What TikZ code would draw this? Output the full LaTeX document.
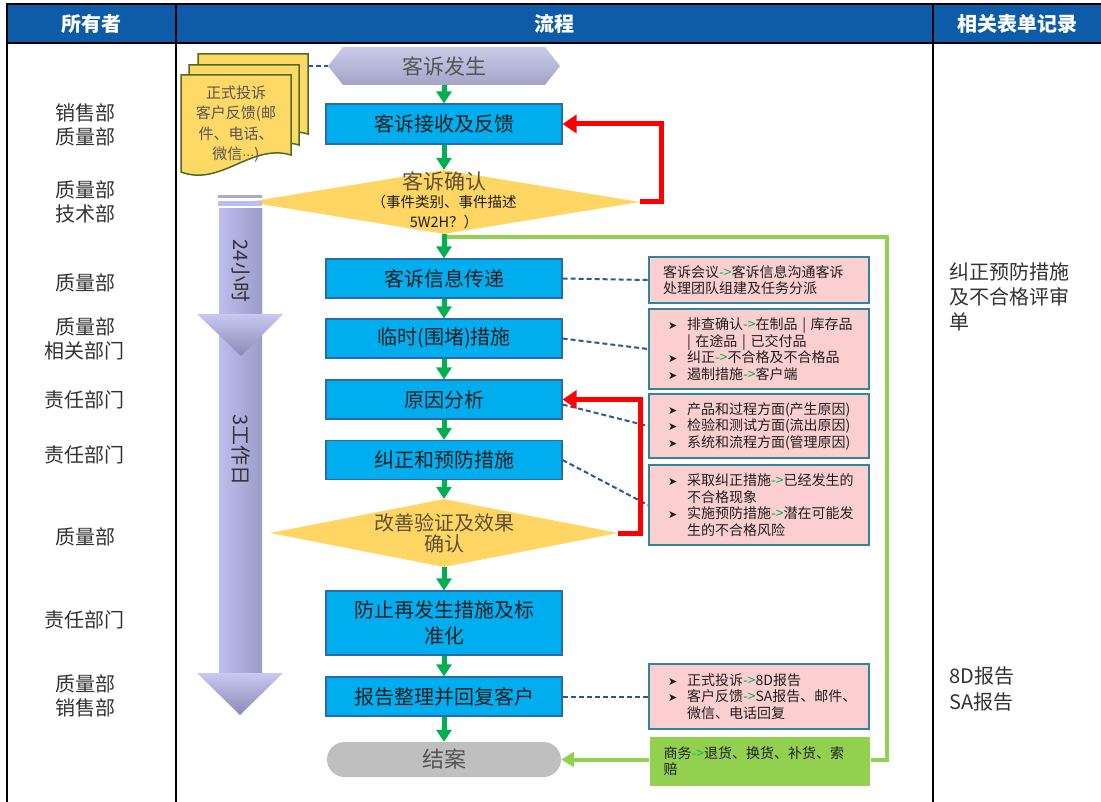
\documentclass[tikz,border=0pt]{standalone}
\usepackage{fontspec}
\setmainfont{Noto Sans CJK SC}
\newfontfamily\dvfont{DejaVu Sans}
\usetikzlibrary{shapes.geometric,shapes.misc,arrows.meta,calc}
\setlength{\parindent}{0pt}
\definecolor{hdrblue}{HTML}{0E5CA8}
\definecolor{boxfill}{HTML}{00AEEF}
\definecolor{boxline}{HTML}{2A6BA8}
\definecolor{diamondy}{HTML}{FFD663}
\definecolor{pinkfill}{HTML}{FBCFCF}
\definecolor{pinkline}{HTML}{31849B}
\definecolor{arrowgreen}{HTML}{00B050}
\definecolor{loopgreen}{HTML}{92D050}
\definecolor{lightgr}{HTML}{1FB84F}
\definecolor{dashblue}{HTML}{2A5A92}
\definecolor{txtdark}{HTML}{1E1E1E}
\definecolor{txtgray}{HTML}{333333}
\definecolor{softgray}{HTML}{555555}
\definecolor{browntxt}{HTML}{5E5036}
\definecolor{endgray}{HTML}{BFBFBF}
\definecolor{docfill}{HTML}{FFD966}
\definecolor{docline}{HTML}{4E6B1F}
\definecolor{lavL}{HTML}{BDBDEE}
\definecolor{lavR}{HTML}{9C9CC8}
\definecolor{lavHT}{HTML}{C8C8F2}
\definecolor{lavHB}{HTML}{8A8AB4}
\definecolor{lavS}{HTML}{A9A9C9}
\definecolor{hexT}{HTML}{CACAE8}
\definecolor{hexB}{HTML}{A4A4C8}
\newcommand{\mybul}{\hspace*{9pt}\makebox[19pt][l]{{\dvfont\fontsize{11}{11}\selectfont ➤}}}
\newcommand{\myind}{\hspace*{28pt}}
\newcommand{\grar}{\textcolor{arrowgreen}{->}}
\newcommand{\lgrar}{\textcolor{lightgr}{->}}
\begin{document}
\begin{tikzpicture}[x=1pt,y=-1pt,
  procbox/.style={rectangle, fill=boxfill, draw=boxline, line width=1.2pt, minimum width=236pt, inner sep=0pt, text=txtdark, font=\fontsize{20}{26}\selectfont, align=center},
  note/.style={rectangle, fill=pinkfill, draw=pinkline, line width=2pt, minimum width=220pt, text width=200pt, inner xsep=10pt, inner ysep=0pt, align=left, font=\fontsize{14}{16.5}\selectfont, text=txtdark},
  owner/.style={font=\fontsize{20}{24}\selectfont, text=txtgray, align=center},
  record/.style={font=\fontsize{20}{25}\selectfont, text=txtgray, align=left, anchor=west, inner sep=0pt},
  hdrtxt/.style={font=\bfseries\fontsize{20}{24}\selectfont, text=white},
  garr/.style={draw=arrowgreen, line width=5pt, -{Triangle[width=15pt,length=12pt]}},
  rarr/.style={draw=red, line width=5pt, -{Triangle[width=18pt,length=14pt]}},
  dashl/.style={draw=dashblue, line width=2pt, dash pattern=on 5pt off 3pt},
  gloop/.style={draw=loopgreen, line width=4pt},
  docpage/.style={fill=docfill, draw=docline, line width=1.5pt}
]
\useasboundingbox (0,0) rectangle (1101,802);
\fill[white] (0,0) rectangle (1101,802);

% header
\fill[hdrblue] (7,4) rectangle (1101,43);
\node[hdrtxt] (h1) at (91.5,23.5) {所有者};
\node[hdrtxt] (h2) at (554.5,23.5) {流程};
\node[hdrtxt] (h3) at (1017,23.5) {相关表单记录};

% document stack
\foreach \X/\Y in {198/54,189/65,181/75}{
  \path[docpage] (\X,\Y) -- (\X+110,\Y) -- (\X+110,\Y+80)
     .. controls (\X+70,\Y+68) and (\X+40,\Y+112) .. (\X,\Y+97) -- cycle;
}
\node[font=\fontsize{15}{20.5}\selectfont, text=softgray, align=center] (doc) at (236,124) {正式投诉\\客户反馈(邮\\件、电话、\\微信{\dvfont\fontsize{12}{12}\selectfont ⋯})};
\coordinate (docr) at (308,66);

% start hexagon
\shade[top color=hexT, bottom color=hexB] (328,66) -- (343,47) -- (545,47) -- (560,66) -- (545,85) -- (343,85) -- cycle;
\node[minimum width=232pt, minimum height=38pt, inner sep=0pt, font=\fontsize{21}{21}\selectfont, text=softgray] (hex) at (444,66) {客诉发生};

% process boxes
\node[procbox, minimum height=40pt] (b1) at (444,124) {客诉接收及反馈};
\node[diamond, fill=diamondy, inner sep=0pt, minimum width=392pt, minimum height=64pt] (d1) at (444,202) {};
\node[font=\fontsize{21}{21}\selectfont, text=browntxt] (d1a) at (444,181) {客诉确认};
\node[font=\fontsize{14.5}{20}\selectfont, align=center, text=txtdark] (d1b) at (444,212) {（事件类别、事件描述\\5W2H？）};
\node[procbox, minimum height=39pt] (b2) at (444,278.5) {客诉信息传递};
\node[procbox, minimum height=39pt] (b3) at (444,338.5) {临时(围堵)措施};
\node[procbox, minimum height=39pt] (b4) at (444,399.5) {原因分析};
\node[procbox, minimum height=39pt] (b5) at (444,460) {纠正和预防措施};
\node[diamond, fill=diamondy, inner sep=0pt, minimum width=348pt, minimum height=68pt] (d2) at (444,533) {};
\node[font=\fontsize{20}{21}\selectfont, align=center, text=browntxt] (d2t) at (444,533) {改善验证及效果\\确认};
\node[procbox, minimum height=64pt] (b6) at (444,623) {防止再发生措施及标\\准化};
\node[procbox, minimum height=39pt] (b7) at (444,696.5) {报告整理并回复客户};
\node[rounded rectangle, fill=endgray, minimum width=234pt, minimum height=35pt, inner sep=0pt, font=\fontsize{22}{22}\selectfont, text=softgray] (jiean) at (444,759.5) {结案};

% lavender time arrows
\shade[left color=lavL, right color=lavR] (219,209) rectangle (262,673);
\shade[top color=lavHT, bottom color=lavHB] (197,673) -- (283,673) -- (240,715) -- cycle;
\shade[left color=lavL, right color=lavR] (219,209) rectangle (262,314);
\shade[top color=lavHT, bottom color=lavHB] (197,314) -- (283,314) -- (241,356) -- cycle;
\fill[lavS] (218,195) rectangle (262,198);
\fill[lavL] (218,201) rectangle (262,206);
\node[rotate=-90, font=\fontsize{20}{20}\selectfont, text=txtgray] (t24) at (241,271) {24小时};
\node[rotate=-90, font=\fontsize{20}{20}\selectfont, text=txtgray] (t3) at (241,450) {3工作日};

% notes
\node[note, minimum height=46pt] (p1) at (759,280) {\hspace*{4pt}客诉会议\grar 客诉信息沟通客诉\\\hspace*{4pt}处理团队组建及任务分派};
\node[note, minimum height=80pt] (p2) at (759,349) {\mybul 排查确认\grar 在制品 | 库存品\\\myind | 在途品 | 已交付品\\\mybul 纠正\grar 不合格及不合格品\\\mybul 遏制措施\grar 客户端};
\node[note, minimum height=64pt] (p3) at (759,426) {\mybul 产品和过程方面(产生原因)\\\mybul 检验和测试方面(流出原因)\\\mybul 系统和流程方面(管理原因)};
\node[note, minimum height=80pt] (p4) at (759,505) {\mybul 采取纠正措施\grar 已经发生的\\\myind 不合格现象\\\mybul 实施预防措施\grar 潜在可能发\\\myind 生的不合格风险};
\node[note, minimum height=65pt] (p5) at (759,696.5) {\mybul 正式投诉\grar 8D报告\\\mybul 客户反馈\grar SA报告、邮件、\\\myind 微信、电话回复};

% green loop
\coordinate (g0) at (444,237);
\coordinate (g1) at (887,237);
\coordinate (g2) at (887,760);
\node[note, fill=loopgreen, draw=none, minimum height=49pt] (sw) at (759.5,761) {\hspace*{4pt}商务\lgrar 退货、换货、补货、索\\\hspace*{4pt}赔};
\draw[gloop, line join=miter] (g0) -- (g1) -- (g2) -- (g2 -| sw.east);
\draw[draw=loopgreen, line width=4pt, -{Triangle[width=15pt,length=13pt]}] (sw.west |- jiean.east) -- (jiean.east);

% green flow arrows
\draw[garr] (hex.south) -- (b1.north);
\draw[garr] (b1.south) -- (d1.north);
\draw[garr] (d1.south) -- (b2.north);
\draw[garr] (b2.south) -- (b3.north);
\draw[garr] (b3.south) -- (b4.north);
\draw[garr] (b4.south) -- (b5.north);
\draw[garr] (b5.south) -- (d2.north);
\draw[garr] (d2.south) -- (b6.north);
\draw[garr] (b6.south) -- (b7.north);
\draw[garr] (b7.south) -- (jiean.north);

% dashed connectors
\draw[dashl] (docr) -- (hex.west);
\draw[dashl] (b2.east) -- (p1.west);
\draw[dashl] (b3.east) -- (p2.west);
\draw[dashl] ([yshift=-5pt]b4.east) -- (p3.west);
\draw[dashl] (b5.east) -- (p4.west);
\draw[dashl] (b7.east) -- (p5.west);

% red loops
\coordinate (r1) at (661,124);
\coordinate (r2) at (640,399.5);
\draw[rarr] (d1.east) -| (r1) -- (b1.east);
\draw[rarr] (d2.east) -| (r2) -- (b4.east);

% owners
\node[owner] (o1) at (85,124.5) {销售部\\质量部};
\node[owner] (o2) at (85,201.5) {质量部\\技术部};
\node[owner] (o3) at (85,283) {质量部};
\node[owner] (o4) at (85,338.5) {质量部\\相关部门};
\node[owner] (o5) at (85,400) {责任部门};
\node[owner] (o6) at (85,455) {责任部门};
\node[owner] (o7) at (85,537) {质量部};
\node[owner] (o8) at (85,620) {责任部门};
\node[owner] (o9) at (85,695.5) {质量部\\销售部};

% records
\node[record] (rec1) at (949,297) {纠正预防措施\\及不合格评审\\单};
\node[record, font=\fontsize{20}{26}\selectfont] (rec2) at (949,689) {8D报告\\SA报告};

% table lines
\draw[line width=2pt] (6,4) -- (1101,4);
\draw[line width=2.5pt] (6,43) -- (1101,43);
\draw[line width=2pt] (7,4) -- (7,802);
\draw[line width=2pt] (176,4) -- (176,802);
\draw[line width=2pt] (933,4) -- (933,802);
\end{tikzpicture}
\end{document}
